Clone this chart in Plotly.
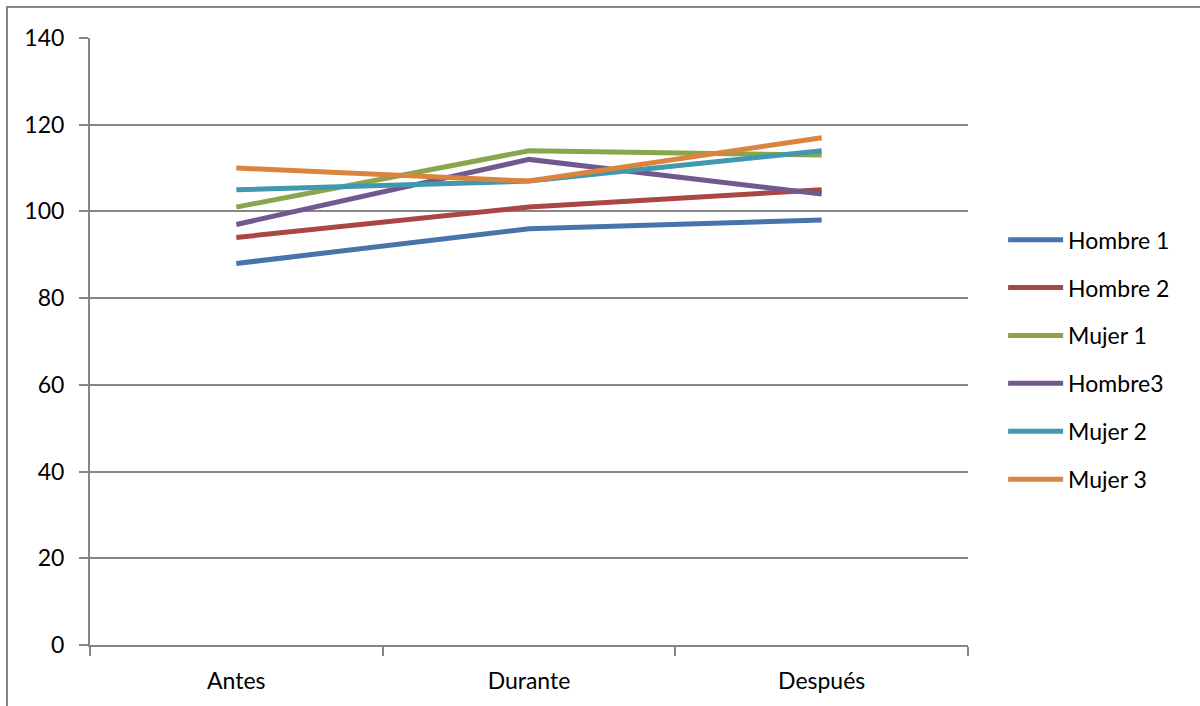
import plotly.graph_objects as go

categories = ["Antes", "Durante", "Después"]

hombre_1 = [88, 96, 98]
hombre_2 = [94, 101, 105]
mujer_1 = [101, 114, 113]
hombre_3 = [97, 112, 104]
mujer_2 = [105, 107, 114]
mujer_3 = [110, 107, 117]

series_names = ["Hombre 1", "Hombre 2", "Mujer 1", "Hombre3", "Mujer 2", "Mujer 3"]
series_values = [hombre_1, hombre_2, mujer_1, hombre_3, mujer_2, mujer_3]
series_colors = ["#4674AB", "#AA4643", "#89A54E", "#71588F", "#4198AF", "#DB843D"]

y_ticks = [0, 20, 40, 60, 80, 100, 120, 140]

FONT = "Lato, 'Noto Sans', sans-serif"
GRID = "#868686"
FS = 23

fig = go.Figure()
for name, vals, col in zip(series_names, series_values, series_colors):
    fig.add_trace(go.Scatter(
        x=categories, y=vals, name=name, mode="lines",
        line=dict(color=col, width=5),
        legendgroup=name,
    ))

fig.update_layout(
    width=1200, height=706,
    margin=dict(l=90, r=232, t=38, b=59),
    paper_bgcolor="white", plot_bgcolor="white",
    font=dict(family=FONT, size=FS, color="#000000"),
    showlegend=True,
    legend=dict(
        x=1.04, xanchor="left", y=0.47, yanchor="middle",
        tracegroupgap=15, itemwidth=55,
        font=dict(family=FONT, size=FS, color="#000000"),
        bgcolor="rgba(0,0,0,0)",
    ),
    xaxis=dict(
        type="category", tickson="boundaries",
        showgrid=False, showline=True, linecolor=GRID, linewidth=2,
        ticks="outside", ticklen=9, tickcolor=GRID, tickwidth=2,
        ticklabelstandoff=14,
        tickfont=dict(family=FONT, size=FS), range=[-0.5, 2.5],
    ),
    yaxis=dict(
        range=[0, 140], tickvals=y_ticks,
        showgrid=True, gridcolor=GRID, gridwidth=2,
        showline=True, linecolor=GRID, linewidth=2,
        ticks="outside", ticklen=9, tickcolor=GRID, tickwidth=2,
        ticklabelstandoff=10,
        tickfont=dict(family=FONT, size=FS), zeroline=False,
    ),
    shapes=[dict(
        type="rect", xref="paper", yref="paper",
        x0=-83 / 878, x1=1.4, y0=-0.2, y1=1 + 31 / 609,
        line=dict(color="#868686", width=2), fillcolor="rgba(0,0,0,0)",
        layer="below",
    )],
)

fig.write_html("out.html")
